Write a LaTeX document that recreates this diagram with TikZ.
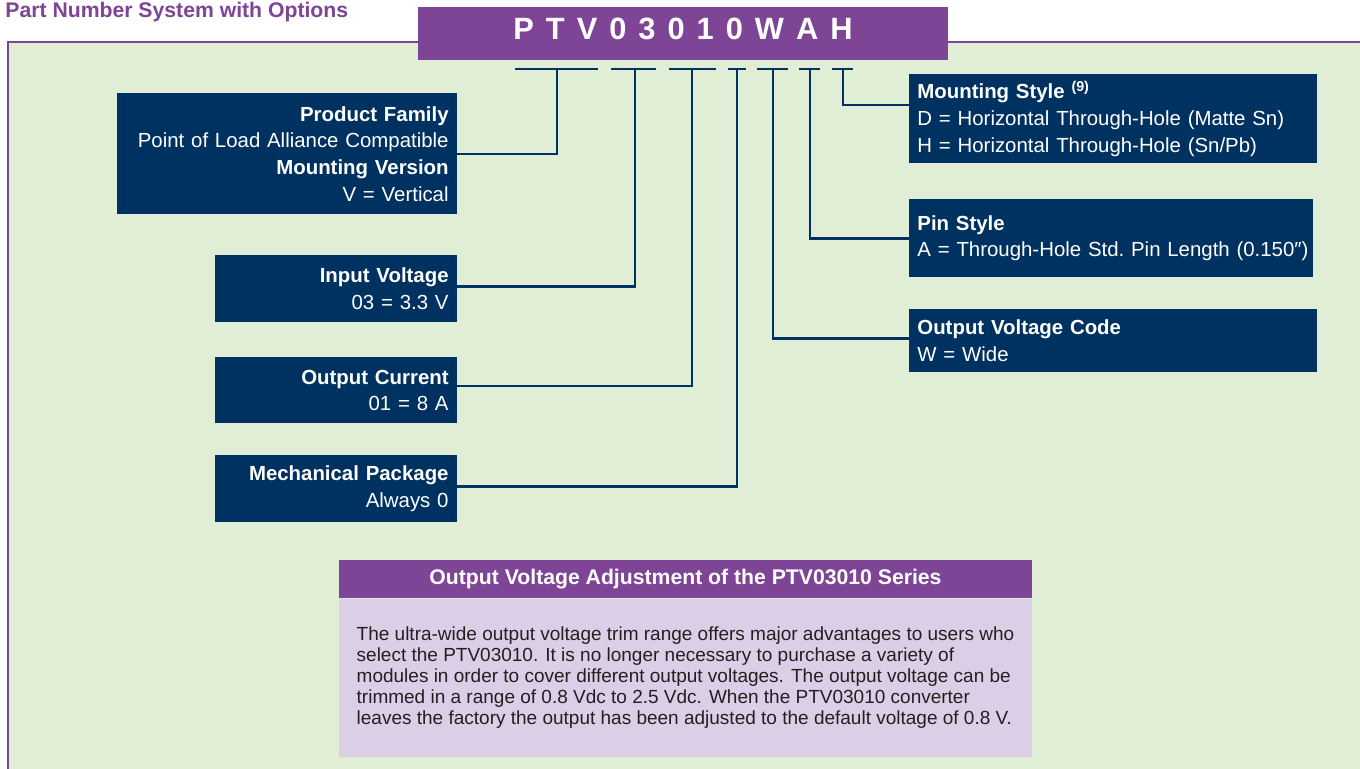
\documentclass[tikz,border=0pt]{standalone}
\usepackage{fontspec}
\setmainfont{Liberation Sans}
\usetikzlibrary{positioning}

\definecolor{pnpurple}{RGB}{126,68,150}
\definecolor{pnnavy}{RGB}{0,50,97}
\definecolor{pngreen}{RGB}{225,238,214}
\definecolor{pnlilac}{RGB}{219,207,231}
\definecolor{pntext}{RGB}{35,31,32}
\newcommand\boxfont{\fontsize{10.2}{13.3}\selectfont}

\begin{document}
\begin{tikzpicture}[x=0.5pt, y=-0.5pt,
    wire/.style = {pnnavy, line width=1.3pt},
    codebox/.style = {fill=pnnavy, text=white, font=\boxfont,
                      inner xsep=4pt, inner ysep=0pt},
    leftbox/.style = {codebox, align=right, anchor=north east,
                      minimum width=121pt, text width=113pt},
    rightbox/.style = {codebox, align=left, anchor=north west,
                       minimum width=204pt, text width=196pt}]
                \useasboundingbox (0,0) rectangle (1360,769);
                \fill[white] (0,0) rectangle (1360,769);

                % panel and heading
                \draw[pnpurple, line width=1pt, fill=pngreen]
                    (8,42) rectangle (1380,800);
                \node[anchor=base west, inner sep=0, text=pnpurple,
                      font=\bfseries\fontsize{10.6}{12}\selectfont]
                    (title) at (5,18) {Part Number System with Options};

                % part number
                \node[fill=pnpurple, text=white, minimum width=265pt,
                      minimum height=26.5pt, inner sep=0, text depth=4.5pt,
                      font=\bfseries\fontsize{15.4}{18}\selectfont]
                    (partno) at (683,33.5)
                    {P\kern6pt T\kern6pt V\kern6pt 0\kern6pt 3\kern6pt
                     0\kern6pt 1\kern6pt 0\kern6pt W\kern6pt A\kern6pt H};

                % underline bars
                \coordinate (ptv)  at (557,69);
                \coordinate (vv)   at (635,69);
                \coordinate (ii)   at (692,69);
                \coordinate (pkg)  at (737,69);
                \coordinate (wide) at (773,69);
                \coordinate (pins) at (810,69);
                \coordinate (hole) at (843,69);
                \draw[wire] (515,69) -- (598,69);
                \draw[wire] (611,69) -- (656,69);
                \draw[wire] (669,69) -- (716,69);
                \draw[wire] (728,69) -- (746,69);
                \draw[wire] (757,69) -- (788,69);
                \draw[wire] (799,69) -- (820,69);
                \draw[wire] (832,69) -- (853,69);

                % option boxes
                \node[leftbox, minimum width=170pt, text width=162pt,
                      minimum height=60.5pt] (family) at (457,93)
                    {\textbf{Product Family}\\Point of Load Alliance Compatible\\
                     \textbf{Mounting Version}\\V = Vertical};
                \node[leftbox, minimum height=33.5pt] (vin) at (457,255)
                    {\textbf{Input Voltage}\\03 = 3.3 V};
                \node[leftbox, minimum height=33pt] (iout) at (457,357)
                    {\textbf{Output Current}\\01 = 8 A};
                \node[leftbox, minimum height=33.5pt] (mech) at (457,455)
                    {\textbf{Mechanical Package}\\Always 0};
                \node[rightbox, minimum height=44.5pt] (mount) at (909,74)
                    {\textbf{Mounting Style \textsuperscript{(9)}}\\
                     D = Horizontal Through-Hole (Matte Sn)\\
                     H = Horizontal Through-Hole (Sn/Pb)};
                \node[rightbox, minimum width=202pt, text width=194pt,
                      minimum height=39pt] (pin) at (909,199)
                    {\textbf{Pin Style}\\
                     \mbox{A = Through-Hole Std.\ Pin Length (0.150″)}};
                \node[rightbox, minimum height=31.5pt] (vcode) at (909,309)
                    {\textbf{Output Voltage Code}\\W = Wide};

                % leaders
                \draw[wire] (ptv) |- (family);
                \draw[wire] (vv) |- ([yshift=1.2pt]vin.east);
                \draw[wire] (ii) |- ([yshift=2.2pt]iout.east);
                \draw[wire] (pkg) |- ([yshift=1.2pt]mech.east);
                \draw[wire] (wide) |- ([yshift=1.2pt]vcode.west);
                \draw[wire] (pins) |- (pin);
                \draw[wire] (hole) |- ([yshift=-15.5pt]mount.north west);

                % adjustment note
                \node[fill=pnpurple, text=white, minimum width=346.5pt,
                      minimum height=19pt, inner sep=0,
                      font=\bfseries\fontsize{10.6}{12}\selectfont]
                    (adjhead) at (685.5,579)
                    {Output Voltage Adjustment of the PTV03010 Series};
                \node[below=0pt of adjhead, fill=pnlilac, text=pntext,
                      minimum width=346.5pt, minimum height=79pt, inner sep=0,
                      align=left, font=\fontsize{9.5}{10.5}\selectfont]
                    (adjbody)
                    {The ultra-wide output voltage trim range offers major advantages to users who\\
                     select the PTV03010.  It is no longer necessary to purchase a variety of\\
                     modules in order to cover different output voltages.  The output voltage can be\\
                     trimmed in a range of 0.8 Vdc to 2.5 Vdc.  When the PTV03010 converter\\
                     leaves the factory the output has been adjusted to the default voltage of 0.8 V.};
            \end{tikzpicture}
\end{document}
